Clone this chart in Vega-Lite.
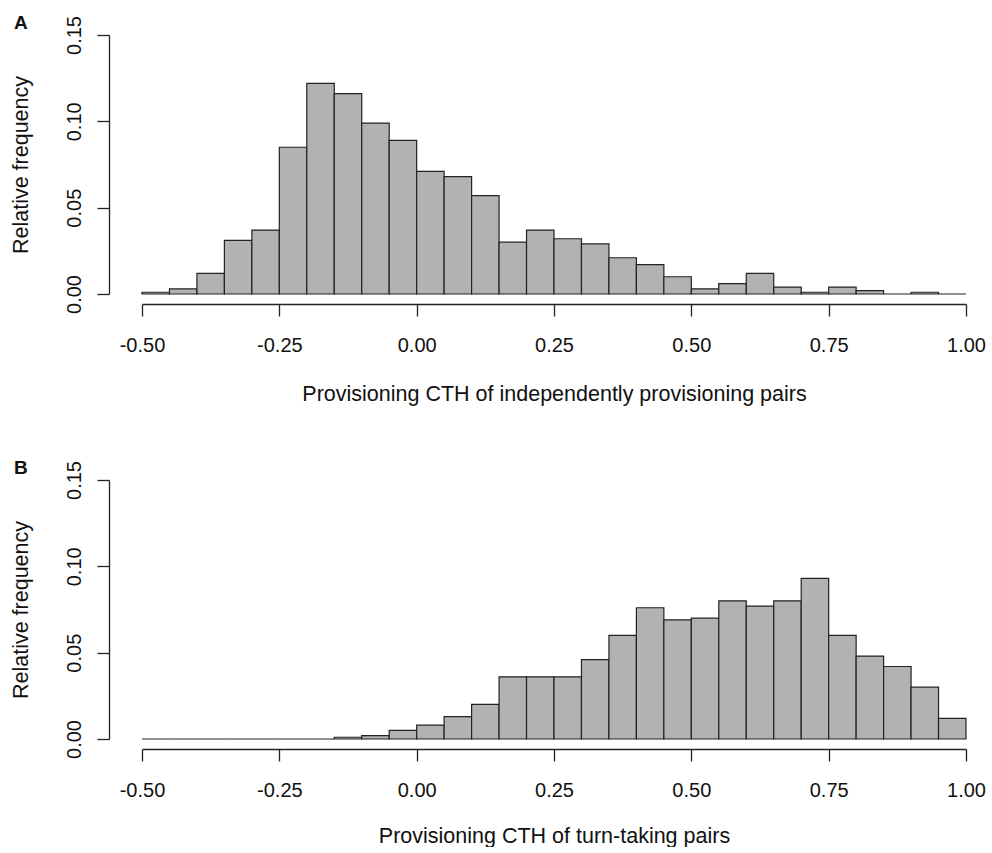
{
  "$schema": "https://vega.github.io/schema/vega-lite/v6.json",
  "background": "white",
  "padding": {"left": 10, "top": 13, "right": 5, "bottom": 0},
  "spacing": 186,
  "bounds": "flush",
  "config": {
    "view": {"stroke": null},
    "font": "Liberation Sans",
    "axis": {
      "grid": false,
      "domainColor": "#222222",
      "domainWidth": 1.3,
      "tickColor": "#222222",
      "tickWidth": 1.3,
      "tickSize": 12,
      "labelColor": "#111111",
      "titleColor": "#111111",
      "labelFont": "Liberation Sans",
      "titleFont": "Liberation Sans",
      "labelFontSize": 20,
      "titleFontSize": 21.5,
      "titleFontWeight": "normal",
      "labelOverlap": false,
      "labelFlush": false
    },
    "axisX": {"offset": 10, "labelPadding": 19, "titlePadding": 28},
    "axisY": {"offset": 33, "labelAngle": -90, "labelAlign": "center", "labelBaseline": "bottom", "labelPadding": 13, "titlePadding": 32},
    "title": {"font": "Liberation Sans", "fontSize": 19, "fontWeight": "bold", "color": "#111111", "anchor": "start", "frame": "bounds", "dy": 21, "dx": 4}
  },
  "datasets": {
    "A": [
      {"start": -0.50, "end": -0.45, "freq": 0.001},
      {"start": -0.45, "end": -0.40, "freq": 0.003},
      {"start": -0.40, "end": -0.35, "freq": 0.012},
      {"start": -0.35, "end": -0.30, "freq": 0.031},
      {"start": -0.30, "end": -0.25, "freq": 0.037},
      {"start": -0.25, "end": -0.20, "freq": 0.085},
      {"start": -0.20, "end": -0.15, "freq": 0.122},
      {"start": -0.15, "end": -0.10, "freq": 0.116},
      {"start": -0.10, "end": -0.05, "freq": 0.099},
      {"start": -0.05, "end": 0.00, "freq": 0.089},
      {"start": 0.00, "end": 0.05, "freq": 0.071},
      {"start": 0.05, "end": 0.10, "freq": 0.068},
      {"start": 0.10, "end": 0.15, "freq": 0.057},
      {"start": 0.15, "end": 0.20, "freq": 0.030},
      {"start": 0.20, "end": 0.25, "freq": 0.037},
      {"start": 0.25, "end": 0.30, "freq": 0.032},
      {"start": 0.30, "end": 0.35, "freq": 0.029},
      {"start": 0.35, "end": 0.40, "freq": 0.021},
      {"start": 0.40, "end": 0.45, "freq": 0.017},
      {"start": 0.45, "end": 0.50, "freq": 0.010},
      {"start": 0.50, "end": 0.55, "freq": 0.003},
      {"start": 0.55, "end": 0.60, "freq": 0.006},
      {"start": 0.60, "end": 0.65, "freq": 0.012},
      {"start": 0.65, "end": 0.70, "freq": 0.004},
      {"start": 0.70, "end": 0.75, "freq": 0.001},
      {"start": 0.75, "end": 0.80, "freq": 0.004},
      {"start": 0.80, "end": 0.85, "freq": 0.002},
      {"start": 0.85, "end": 0.90, "freq": 0.0},
      {"start": 0.90, "end": 0.95, "freq": 0.001},
      {"start": 0.95, "end": 1.00, "freq": 0.0}
    ],
    "B": [
      {"start": -0.50, "end": -0.45, "freq": 0.0},
      {"start": -0.45, "end": -0.40, "freq": 0.0},
      {"start": -0.40, "end": -0.35, "freq": 0.0},
      {"start": -0.35, "end": -0.30, "freq": 0.0},
      {"start": -0.30, "end": -0.25, "freq": 0.0},
      {"start": -0.25, "end": -0.20, "freq": 0.0},
      {"start": -0.20, "end": -0.15, "freq": 0.0},
      {"start": -0.15, "end": -0.10, "freq": 0.001},
      {"start": -0.10, "end": -0.05, "freq": 0.002},
      {"start": -0.05, "end": 0.00, "freq": 0.005},
      {"start": 0.00, "end": 0.05, "freq": 0.008},
      {"start": 0.05, "end": 0.10, "freq": 0.013},
      {"start": 0.10, "end": 0.15, "freq": 0.020},
      {"start": 0.15, "end": 0.20, "freq": 0.036},
      {"start": 0.20, "end": 0.25, "freq": 0.036},
      {"start": 0.25, "end": 0.30, "freq": 0.036},
      {"start": 0.30, "end": 0.35, "freq": 0.046},
      {"start": 0.35, "end": 0.40, "freq": 0.060},
      {"start": 0.40, "end": 0.45, "freq": 0.076},
      {"start": 0.45, "end": 0.50, "freq": 0.069},
      {"start": 0.50, "end": 0.55, "freq": 0.070},
      {"start": 0.55, "end": 0.60, "freq": 0.080},
      {"start": 0.60, "end": 0.65, "freq": 0.077},
      {"start": 0.65, "end": 0.70, "freq": 0.080},
      {"start": 0.70, "end": 0.75, "freq": 0.093},
      {"start": 0.75, "end": 0.80, "freq": 0.060},
      {"start": 0.80, "end": 0.85, "freq": 0.048},
      {"start": 0.85, "end": 0.90, "freq": 0.042},
      {"start": 0.90, "end": 0.95, "freq": 0.030},
      {"start": 0.95, "end": 1.00, "freq": 0.012}
    ]
  },
  "vconcat": [
    {
      "width": 824,
      "height": 259,
      "title": {"text": "A"},
      "data": {"name": "A"},
      "mark": {"type": "rect", "fill": "#b2b2b2", "stroke": "#222222", "strokeWidth": 1.2},
      "encoding": {
        "x": {"field": "start", "type": "quantitative", "scale": {"domain": [-0.5, 1.0], "nice": false, "zero": false},
              "axis": {"title": "Provisioning CTH of independently provisioning pairs", "values": [-0.5, -0.25, 0, 0.25, 0.5, 0.75, 1.0], "format": ".2f", "labelExpr": "replace(datum.label, '\u2212', '-')"}},
        "x2": {"field": "end"},
        "y": {"field": "freq", "type": "quantitative", "scale": {"domain": [0, 0.15], "nice": false},
              "axis": {"title": "Relative frequency", "values": [0, 0.05, 0.1, 0.15], "format": ".2f"}},
        "y2": {"datum": 0}
      }
    },
    {
      "width": 824,
      "height": 259,
      "title": {"text": "B"},
      "data": {"name": "B"},
      "mark": {"type": "rect", "fill": "#b2b2b2", "stroke": "#222222", "strokeWidth": 1.2},
      "encoding": {
        "x": {"field": "start", "type": "quantitative", "scale": {"domain": [-0.5, 1.0], "nice": false, "zero": false},
              "axis": {"title": "Provisioning CTH of turn-taking pairs", "titlePadding": 25, "values": [-0.5, -0.25, 0, 0.25, 0.5, 0.75, 1.0], "format": ".2f", "labelExpr": "replace(datum.label, '\u2212', '-')"}},
        "x2": {"field": "end"},
        "y": {"field": "freq", "type": "quantitative", "scale": {"domain": [0, 0.15], "nice": false},
              "axis": {"title": "Relative frequency", "values": [0, 0.05, 0.1, 0.15], "format": ".2f"}},
        "y2": {"datum": 0}
      }
    }
  ]
}
